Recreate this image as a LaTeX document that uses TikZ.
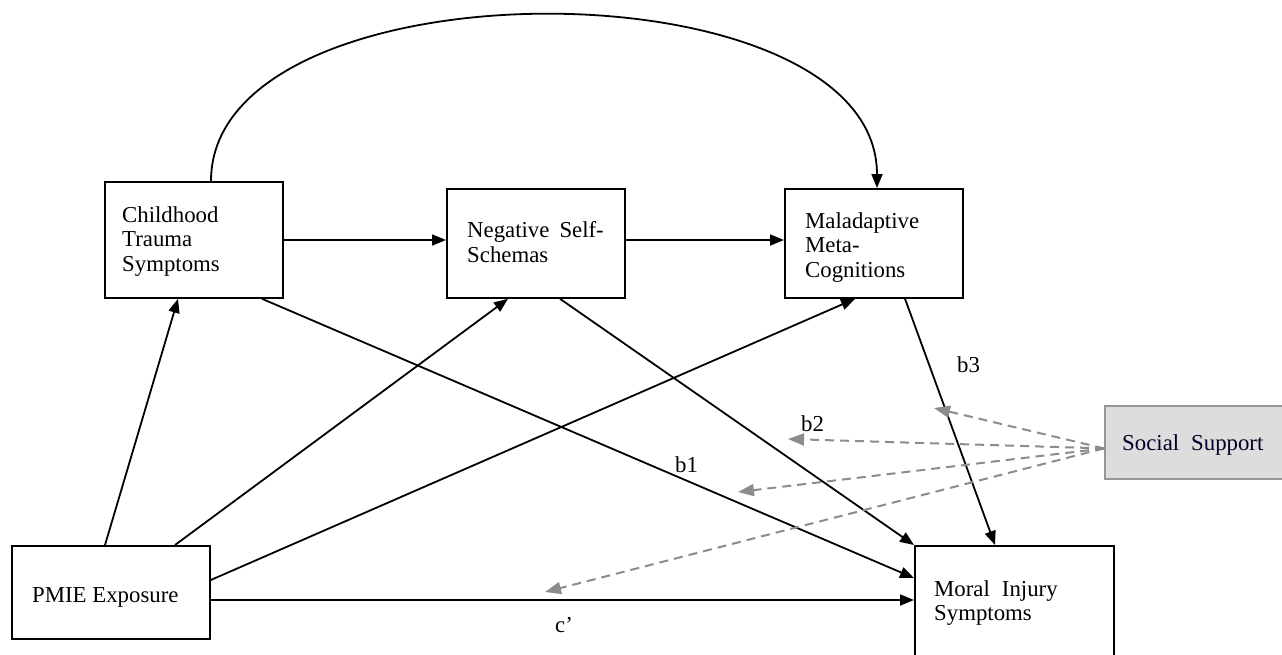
\documentclass[tikz,border=0pt]{standalone}
\usepackage{fontspec}
\setmainfont{Liberation Serif}
\usetikzlibrary{arrows.meta}
\definecolor{dashgray}{RGB}{140,140,140}
\definecolor{ssfill}{RGB}{221,221,221}
\definecolor{ssedge}{RGB}{150,150,150}
\begin{document}
\begin{tikzpicture}[x=1pt,y=-1pt,
  box/.style={draw=black,line width=1.8pt,fill=white,inner sep=0pt,anchor=north west},
  txt/.style={inner sep=0pt,align=left,font=\fontsize{22.8}{24.8}\selectfont},
  lab/.style={inner sep=0pt,anchor=base west,font=\fontsize{22.8}{24.8}\selectfont},
  path/.style={line width=1.8pt,-{Triangle[length=14pt,width=11pt]}},
  mod/.style={draw=dashgray,line width=2pt,dash pattern=on 9pt off 6pt,
              -{Triangle[length=16pt,width=12pt,fill=dashgray]}}]
\clip (0,0) rectangle (1282,654);
\fill[white] (0,0) rectangle (1282,654);

% construct boxes
\node[box,minimum width=178pt,minimum height=116pt] (ct) at (104,181) {};
\node[box,minimum width=178pt,minimum height=109pt] (ns) at (446,188) {};
\node[box,minimum width=178pt,minimum height=109pt] (mm) at (784,188) {};
\node[box,minimum width=198pt,minimum height=93pt]  (pm) at (11,545) {};
\node[box,minimum width=199pt,minimum height=130pt] (mi) at (914,545) {};
\node[box,draw=ssedge,fill=ssfill,minimum width=180pt,minimum height=73pt] (ss) at (1104,405) {};

% box texts
\node[txt,anchor=north west] (ctT) at (122,206) {Childhood\\Trauma\\Symptoms};
\node[txt,anchor=north west] (nsT) at (467,221) {Negative\hspace{10pt}Self-\\Schemas};
\node[txt,anchor=north west] (mmT) at (805,212) {Maladaptive\\Meta-\\Cognitions};
\node[txt,anchor=north west] (miT) at (934,580) {Moral\hspace{12pt}Injury\\Symptoms};
\node[lab] (pmT) at (32,602) {PMIE Exposure};
\node[lab,text=black!85!blue] (ssT) at (1122,450) {Social\hspace{12pt}Support};

% path labels
\node[lab] (lb1) at (675,472) {b1};
\node[lab] (lb2) at (801,431) {b2};
\node[lab] (lb3) at (957,372) {b3};
\node[lab] (lc)  at (555,632) {c'};

% direct paths
\draw[path] ([xshift=107pt]ct.north west) .. controls (211,-41) and (877,-41) .. ([xshift=93pt]mm.north west);
\draw[path] (ct.east |- 0,240) -- (ns.west |- 0,240);
\draw[path] (ns.east |- 0,240) -- (mm.west |- 0,240);
\draw[path] ([xshift=94pt]pm.north west) -- ([xshift=74pt]ct.south west);
\draw[path] ([xshift=164pt]pm.north west) -- ([xshift=62pt]ns.south west);
\draw[path] ([yshift=-35pt]pm.north east) -- ([xshift=71pt]mm.south west);
\draw[path] ([yshift=-55pt]pm.north east) -- ([yshift=-55pt]mi.north west);
\draw[path] ([xshift=158pt]ct.south west) -- ([yshift=-33pt]mi.north west);
\draw[path] ([xshift=114pt]ns.south west) -- (mi.north west);
\draw[path] ([xshift=121pt]mm.south west) -- ([xshift=81pt]mi.north west);

% moderation by social support
\coordinate (hub) at ([yshift=-6pt]ss.west);
\coordinate (m3) at (934,408);
\coordinate (m2) at (788,439);
\coordinate (m1) at (738,492);
\coordinate (mc) at (545,592);
\draw[mod] (hub) -- (m3);
\draw[mod] (hub) -- (m2);
\draw[mod] (hub) -- (m1);
\draw[mod] (hub) -- (mc);
\end{tikzpicture}
\end{document}
